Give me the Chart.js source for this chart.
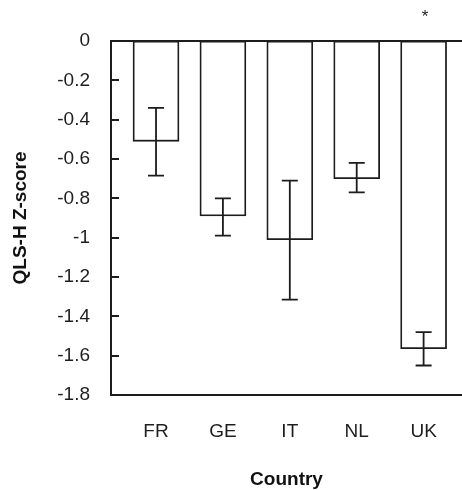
<!DOCTYPE html>
<html>
<head>
<meta charset="utf-8">
<script src="https://cdn.jsdelivr.net/npm/chart.js@4"></script>
<style>
  html, body { margin: 0; padding: 0; background: #fff; }
  canvas { display: block; }
</style>
</head>
<body>
<canvas id="c" width="462" height="490"></canvas>
<script>
const categories = ['FR', 'GE', 'IT', 'NL', 'UK'];
const meanZ = [-0.51, -0.89, -1.01, -0.70, -1.565];
const errUpper = [-0.34, -0.80, -0.71, -0.62, -1.48];
const errLower = [-0.685, -0.99, -1.315, -0.77, -1.65];
const annotations = ['', '', '', '', '*'];
const yTicks = [0, -0.2, -0.4, -0.6, -0.8, -1, -1.2, -1.4, -1.6, -1.8];

const INK = '#1c1c1c';
const FONT = "'Liberation Sans', Arial, sans-serif";

const extras = {
  id: 'extras',
  afterDraw(chart) {
    const ctx = chart.ctx;
    const x = chart.scales.x, y = chart.scales.y;
    const area = chart.chartArea;
    ctx.save();
    ctx.strokeStyle = INK;
    ctx.lineCap = 'butt';
    // top baseline at zero
    ctx.lineWidth = 2;
    const y0 = y.getPixelForValue(0);
    ctx.beginPath();
    ctx.moveTo(area.left, y0);
    ctx.lineTo(area.right, y0);
    ctx.stroke();
    // inward ticks on the value axis
    for (const v of yTicks) {
      const py = Math.round(y.getPixelForValue(v));
      ctx.beginPath();
      ctx.moveTo(area.left - 1, py);
      ctx.lineTo(area.left + 8, py);
      ctx.stroke();
    }
    // error bars
    ctx.lineWidth = 1.8;
    categories.forEach((c, i) => {
      const px = x.getPixelForValue(i + 1);
      const ya = y.getPixelForValue(errUpper[i]);
      const yb = y.getPixelForValue(errLower[i]);
      ctx.beginPath();
      ctx.moveTo(px, ya); ctx.lineTo(px, yb);
      ctx.moveTo(px - 8, ya); ctx.lineTo(px + 8, ya);
      ctx.moveTo(px - 8, yb); ctx.lineTo(px + 8, yb);
      ctx.stroke();
      if (annotations[i]) {
        ctx.fillStyle = INK;
        ctx.font = "17px " + FONT;
        ctx.textAlign = 'center';
        ctx.textBaseline = 'middle';
        ctx.fillText(annotations[i], px + 1.5, area.top - 24);
      }
    });
    ctx.restore();
  }
};

new Chart(document.getElementById('c'), {
  type: 'bar',
  data: {
    datasets: [{
      data: meanZ.map((v, i) => ({ x: i + 1, y: v })),
      backgroundColor: '#ffffff',
      borderColor: INK,
      borderWidth: 1.8,
      borderSkipped: false,
      barThickness: 46
    }]
  },
  options: {
    responsive: false,
    animation: false,
    devicePixelRatio: 1,
    layout: { padding: { top: 41, right: 0, left: 0, bottom: 0 } },
    plugins: { legend: { display: false }, tooltip: { enabled: false } },
    scales: {
      x: {
        type: 'linear',
        offset: false,
        min: 0.327,
        max: 5.574,
        afterBuildTicks: s => { s.ticks = categories.map((c, i) => ({ value: i + 1 })); },
        afterFit: s => { s.height = 95; },
        grid: { display: false, drawTicks: false },
        border: { display: true, color: INK, width: 2 },
        ticks: {
          color: '#1e1e1e',
          font: { family: FONT, size: 19 },
          padding: 25,
          autoSkip: false,
          maxRotation: 0,
          callback: v => categories[Math.round(v) - 1] || ''
        },
        title: {
          display: true,
          text: 'Country',
          color: '#111',
          font: { family: FONT, size: 19, weight: 'bold', lineHeight: 1 },
          padding: { top: 0, bottom: 1 }
        }
      },
      y: {
        min: -1.8,
        max: 0,
        afterBuildTicks: s => { s.ticks = yTicks.map(v => ({ value: v })); },
        afterFit: s => { s.width = 111; },
        grid: { display: false, drawTicks: false },
        border: { display: true, color: INK, width: 2 },
        ticks: {
          color: '#1e1e1e',
          font: { family: FONT, size: 19 },
          padding: 21,
          callback: v => String(Number(v.toFixed(1)))
        },
        title: {
          display: true,
          text: 'QLS-H Z-score',
          color: '#111',
          font: { family: FONT, size: 19, weight: 'bold', lineHeight: 1.2 },
          padding: { top: 9, bottom: 0 }
        }
      }
    }
  },
  plugins: [extras]
});
</script>
</body>
</html>
